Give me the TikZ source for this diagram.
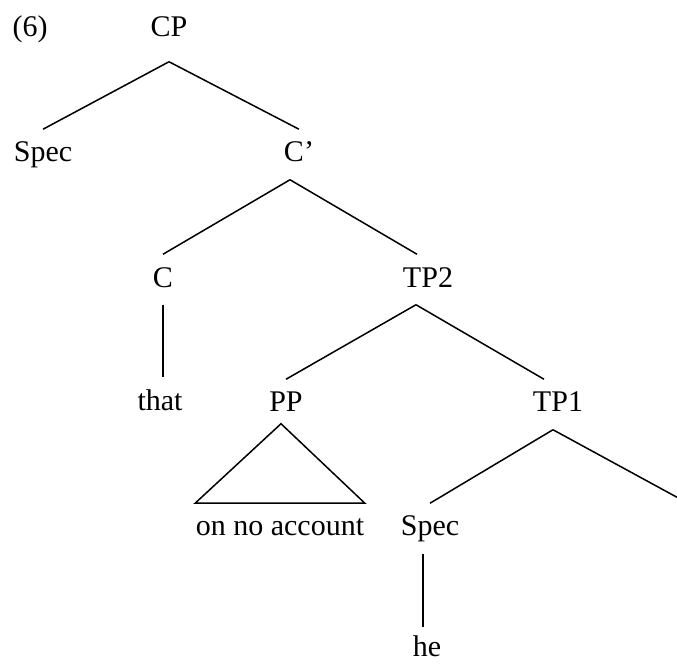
\documentclass[tikz,border=0pt]{standalone}
\usepackage{fontspec}
\setmainfont{Liberation Serif}

\begin{document}
\begin{tikzpicture}[x=0.5pt, y=-0.5pt, line width=0.75pt,
    lbl/.style={anchor=base, inner sep=0pt, text height=16pt, text depth=8.5pt,
        font=\fontsize{15}{18}\selectfont}]
    \useasboundingbox (0,0) rectangle (677,664);

    % labels, placed at their baselines
    \node[lbl] (ex) at (30,36) {(6)};
    \node[lbl] (cp) at (169,36) {CP};
    \node[lbl] (spec1) at (43,162) {Spec};
    \node[lbl] (cbar) at (299,162) {C’};
    \node[lbl] (c) at (163,287) {C};
    \node[lbl] (tp2) at (428,287) {TP2};
    \node[lbl] (that) at (160,410) {that};
    \node[lbl] (pp) at (286,412) {PP};
    \node[lbl] (tp1) at (558,412) {TP1};
    \node[lbl] (noacc) at (280,536) {on no account};
    \node[lbl] (spec2) at (430,536) {Spec};
    \node[lbl, text depth=0pt] (he) at (427,657) {he};
    \coordinate (tp1r) at (682,500);

    % branches
    \draw ([yshift=-4pt]cp.south) -- (spec1.north);
    \draw ([yshift=-4pt]cp.south) -- (cbar.north);
    \draw ([xshift=-4.5pt]cbar.south) -- (c.north);
    \draw ([xshift=-4.5pt]cbar.south) -- ([xshift=-5.5pt]tp2.north);
    \draw (c.south) -- (c.south |- that.north);
    \draw ([xshift=-6pt]tp2.south) -- (pp.north);
    \draw ([xshift=-6pt]tp2.south) -- ([xshift=-7pt]tp1.north);
    \draw ([xshift=-2.5pt]tp1.south) -- (spec2.north);
    \draw ([xshift=-2.5pt]tp1.south) -- (tp1r);
    \draw ([xshift=-3.5pt]spec2.south) -- ([xshift=-3.5pt, yshift=-1.5pt]spec2.south |- he.north);

    % triangle over the PP
    \draw ([xshift=-2.5pt, yshift=3pt]pp.south) -- (noacc.north west) -- (noacc.north east) -- cycle;
\end{tikzpicture}
\end{document}
